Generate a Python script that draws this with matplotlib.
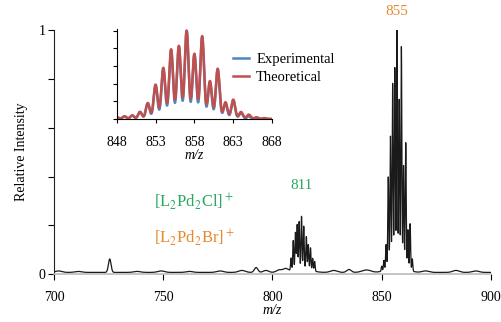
import numpy as np
import matplotlib
matplotlib.use("Agg")
from matplotlib import pyplot as plt

plt.rcParams['font.family'] = ['Liberation Serif', 'DejaVu Serif']
plt.rcParams['mathtext.fontset'] = 'stix'

# main spectrum: stick peaks (m/z, relative intensity)
cl_mz = [808.5, 809.5, 810.5, 811.3, 812.2, 813.3, 814.3, 815.5, 816.4, 817.4, 818.4, 819.3]
cl_int = [0.05, 0.12, 0.15, 0.18, 0.19, 0.21, 0.17, 0.13, 0.10, 0.09, 0.05, 0.04]
br_mz = [850.0, 851.0, 852.0, 853.0, 854.0, 855.0, 856.0, 857.0, 858.0, 859.0, 860.0, 861.0, 862.0, 863.0, 864.0]
br_int = [0.02, 0.04, 0.10, 0.37, 0.53, 0.74, 0.80, 0.96, 0.67, 0.89, 0.41, 0.51, 0.16, 0.19, 0.05]
# broad humps and baseline bumps (m/z, height, width)
hump_mz = [702, 711, 725.5, 738, 749, 762, 776, 786, 792.5, 797, 803, 806, 813.5, 828, 835, 843, 857, 870, 884, 893]
hump_int = [0.006, 0.004, 0.055, 0.004, 0.006, 0.004, 0.006, 0.008, 0.02, 0.008, 0.01, 0.014, 0.02, 0.008, 0.012, 0.01, 0.04, 0.006, 0.008, 0.006]
hump_w = [1.5, 1.5, 0.6, 1.5, 1.5, 1.5, 1.5, 1.5, 0.8, 1.2, 1.2, 1.2, 3.5, 1.5, 1.0, 2.0, 3.5, 1.5, 1.5, 1.5]

# inset: isotope pattern of [L2Pd2Br]+
iso_mz = list(range(848, 868))
exp_int = [0.02, 0.03, 0.04, 0.08, 0.18, 0.38, 0.57, 0.78, 0.82, 1.00, 0.73, 0.93, 0.42, 0.56, 0.18, 0.21, 0.07, 0.03, 0.01, 0.00]
theo_int = [0.02, 0.03, 0.04, 0.08, 0.18, 0.39, 0.58, 0.79, 0.83, 1.00, 0.74, 0.94, 0.43, 0.57, 0.19, 0.22, 0.08, 0.05, 0.02, 0.01]


def profile(x, centers, heights, width):
    widths = np.broadcast_to(width, len(centers))
    y = np.zeros_like(x)
    for c, h, w in zip(centers, heights, widths):
        y += h * np.exp(-(x - c) ** 2 / (2 * w ** 2))
    return y


fig = plt.figure(figsize=(5.02, 3.22), dpi=100)
ax = fig.add_axes([0.1076, 0.148, 0.8704, 0.759])

x = np.linspace(700, 900, 6000)
y = 0.008 + profile(x, cl_mz + br_mz, cl_int + br_int, 0.22) + profile(x, hump_mz, hump_int, hump_w)
ax.plot(x, y, color='#1a1a1a', lw=0.9)

ax.set_xlim(700, 900)
ax.set_ylim(0, 1)
ax.set_xticks([700, 750, 800, 850, 900])
ax.set_yticks([0, 0.2, 0.4, 0.6, 0.8, 1.0])
ax.set_yticklabels(['0', '', '', '', '', '1'])
ax.tick_params(labelsize=10, length=4, width=0.8, direction='out', pad=2)
ax.tick_params(axis='x', pad=8)
for s in ['top', 'right']:
    ax.spines[s].set_visible(False)
ax.spines['left'].set_color('#222222')
ax.spines['bottom'].set_color('#bbbbbb')
ax.spines['bottom'].set_linewidth(1.2)
ax.set_xlabel('m/z', style='italic', fontsize=10, labelpad=0)
ax.set_ylabel('Relative Intensity', fontsize=10, labelpad=8)

green = '#2aa860'
orange = '#e58a2e'
ax.text(813.3, 0.335, '811', color=green, fontsize=11, ha='center', va='bottom')
ax.text(857.1, 1.05, '855', color=orange, fontsize=11, ha='center', va='bottom')
ax.text(764, 0.30, r'[L$_2$Pd$_2$Cl]$^+$', color=green, fontsize=12, ha='center', va='center')
ax.text(764, 0.15, r'[L$_2$Pd$_2$Br]$^+$', color=orange, fontsize=12, ha='center', va='center')

# inset
ins = fig.add_axes([0.2325, 0.6305, 0.3095, 0.2795])
xi = np.linspace(848, 868, 2000)
ins.plot(xi, profile(xi, iso_mz, exp_int, 0.24), color='#4f86c0', lw=1.8, label='Experimental')
ins.plot(xi, profile(xi, iso_mz, theo_int, 0.25), color='#c0504d', lw=1.8, label='Theoretical')
ins.set_xlim(848, 868)
ins.set_ylim(0, 1.02)
ins.set_xticks([848, 853, 858, 863, 868])
ins.set_yticks([0, 0.2, 0.4, 0.6, 0.8, 1.0])
ins.set_yticklabels([])
ins.tick_params(labelsize=10, length=3, width=0.8, pad=2)
ins.tick_params(axis='x', pad=9)
for s in ['top', 'right']:
    ins.spines[s].set_visible(False)
ins.set_xlabel('m/z', style='italic', fontsize=10, labelpad=0)
ins.patch.set_alpha(0)
ins.legend(loc='upper left', bbox_to_anchor=(0.71, 0.80), frameon=False, fontsize=10.5,
           handlelength=1.1, handletextpad=0.5, labelspacing=0.35, borderaxespad=0)

fig.savefig('out.png', dpi=100)
